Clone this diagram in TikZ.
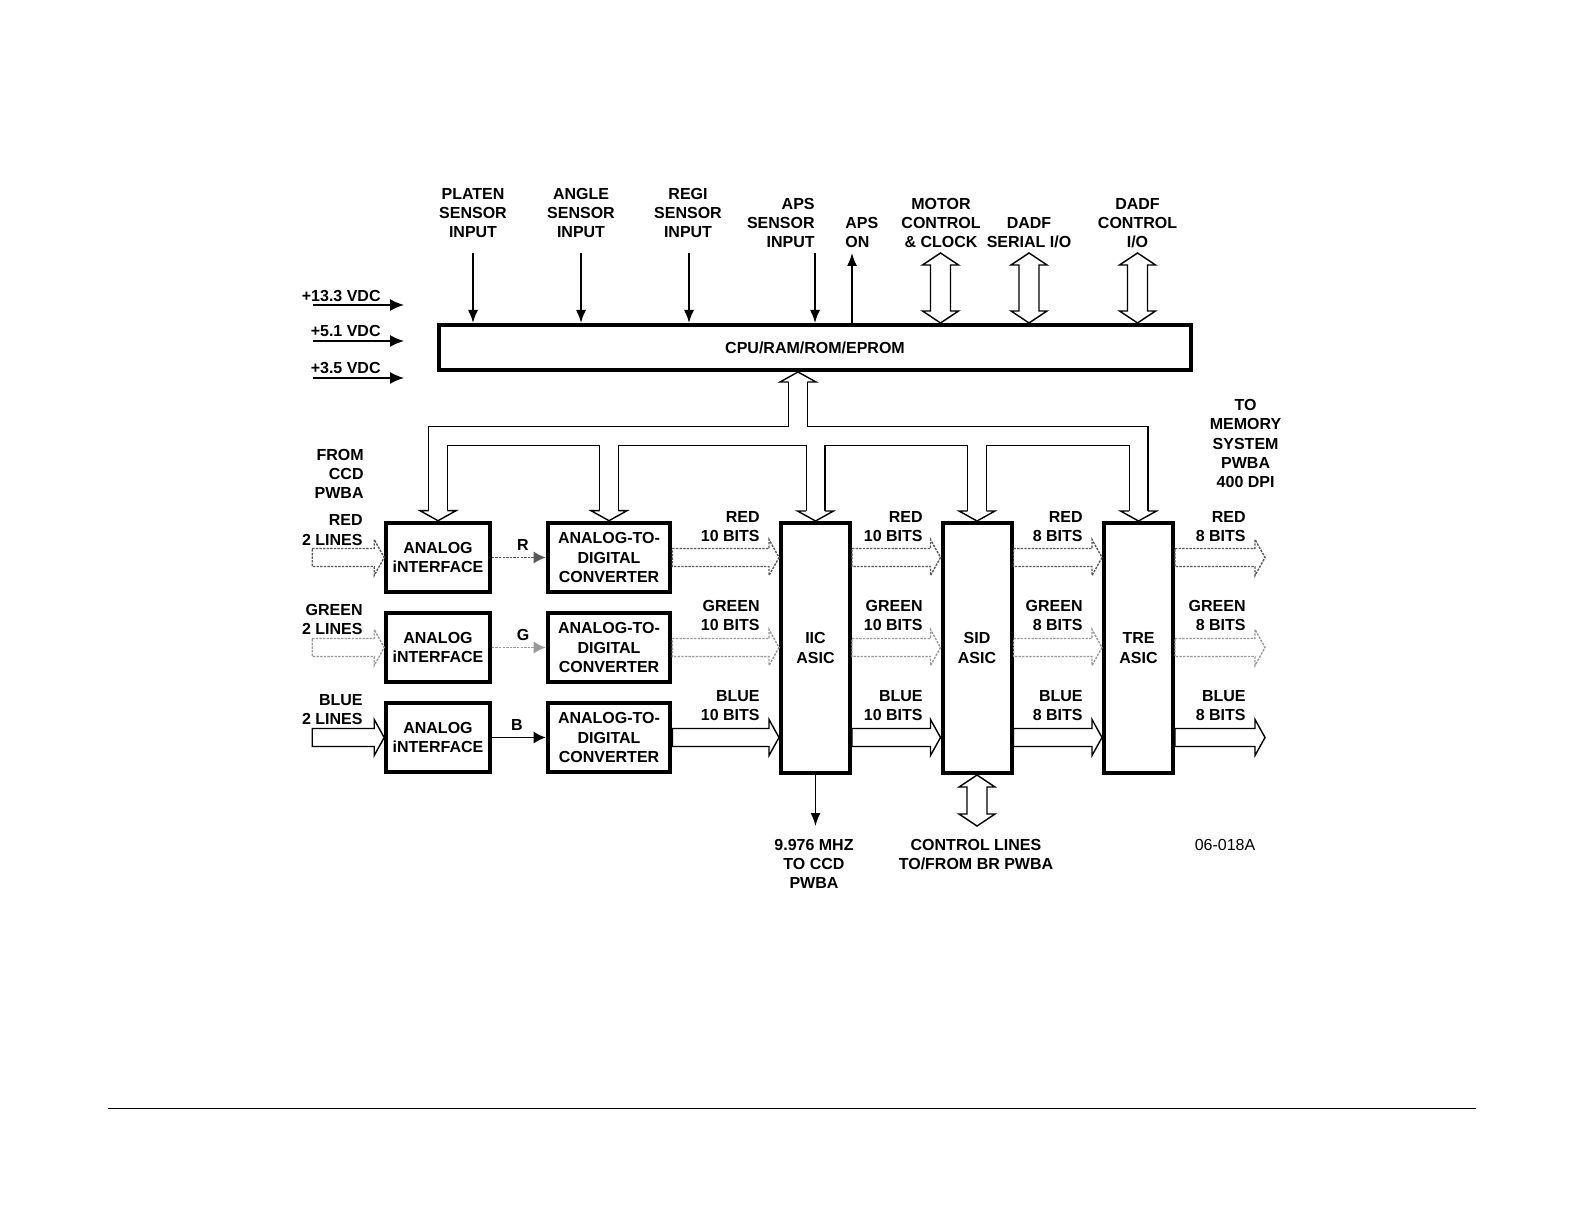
\documentclass[tikz,border=0pt]{standalone}
\usepackage{fontspec}
\setmainfont{Liberation Sans}
\usetikzlibrary{arrows.meta,calc}

\tikzset{
  blk/.style={draw, line width=2pt, align=center, inner sep=0pt},
  lbl/.style={align=center, inner sep=0pt},
  busline/.style={line width=0.7pt, line join=miter},
  row1/.style={busline, dash pattern=on 1.2pt off 0.6pt, black!65},
  row2/.style={busline, dash pattern=on 1.2pt off 0.6pt, black!40},
  row3/.style={busline},
  sig/.style={line width=0.8pt, -{Latex[length=6.5pt,width=5pt]}},
}

% hollow one-way bus, left to right
\newcommand\hbus[3][]{\draw[#1] let \p1=#2, \p2=#3 in
  (\x1,\y1+4.5pt) -- (\x2-5pt,\y1+4.5pt) -- (\x2-5pt,\y1+9pt) -- (\x2,\y1)
  -- (\x2-5pt,\y1-9pt) -- (\x2-5pt,\y1-4.5pt) -- (\x1,\y1-4.5pt) -- cycle;}
% hollow two-way bus, top to bottom
\newcommand\vbus[2]{\draw[busline] let \p1=#1, \p2=#2 in
  (\x1,\y1) -- (\x1+9pt,\y1-6pt) -- (\x1+5pt,\y1-6pt) -- (\x1+5pt,\y2+6pt)
  -- (\x1+9pt,\y2+6pt) -- (\x1,\y2) -- (\x1-9pt,\y2+6pt) -- (\x1-5pt,\y2+6pt)
  -- (\x1-5pt,\y1-6pt) -- (\x1-9pt,\y1-6pt) -- cycle;}
% open head on the end of the bus tree
\newcommand\bushead[2]{%
  \fill[white] let \p1=#1 in (\x1-9pt,{\y1+(#2)}) -- (\x1,\y1) -- (\x1+9pt,{\y1+(#2)}) -- cycle;
  \draw[busline] let \p1=#1 in (\x1-4.65pt,{\y1+(#2)}) -- (\x1-9pt,{\y1+(#2)}) -- (\x1,\y1)
    -- (\x1+9pt,{\y1+(#2)}) -- (\x1+4.65pt,{\y1+(#2)});}

\begin{document}
\begin{tikzpicture}[x=0.5pt, y=-0.5pt, font=\fontsize{8}{9.6}\selectfont\bfseries]
    \useasboundingbox (0,0) rectangle (1584,1224);

    % blocks
    \node[blk, minimum width=375.8pt, minimum height=22.5pt] (cpu) at (815,347.5) {CPU/RAM/ROM/EPROM};
    \foreach \i/\y in {1/557.5, 2/647.5, 3/737.5} {
        \node[blk, minimum width=51.8pt, minimum height=34.8pt] (ai\i) at (438,\y) {ANALOG\\iNTERFACE};
        \node[blk, minimum width=61.3pt, minimum height=34.8pt] (adc\i) at (609,\y) {ANALOG-TO-\\DIGITAL\\CONVERTER};
    }
    \node[blk, minimum width=34.5pt, minimum height=125pt] (iic) at (815.5,648) {IIC\\ASIC};
    \node[blk, minimum width=34.5pt, minimum height=125pt] (sid) at (977,648) {SID\\ASIC};
    \node[blk, minimum width=34.5pt, minimum height=125pt] (tre) at (1138.5,648) {TRE\\ASIC};

    % labels above the CPU
    \node[lbl] (platen) at (473,213) {PLATEN\\SENSOR\\INPUT};
    \node[lbl] (angle) at (581,213) {ANGLE\\SENSOR\\INPUT};
    \node[lbl] (regi) at (688,213) {REGI\\SENSOR\\INPUT};
    \node[lbl, align=right, anchor=east] (apsIn) at (815,223) {APS\\SENSOR\\INPUT};
    \node[lbl, align=left, anchor=west] (apsOn) at (845,232.5) {APS\\ON};
    \node[lbl] (motor) at (941,223) {MOTOR\\CONTROL\\\& CLOCK};
    \node[lbl] (dadfSer) at (1029,232.5) {DADF\\SERIAL I/O};
    \node[lbl] (dadfCtl) at (1137.5,223) {DADF\\CONTROL\\I/O};

    \node[lbl, anchor=east] (v13) at (381,296) {+13.3 VDC};
    \node[lbl, anchor=east] (v5) at (381,331) {+5.1 VDC};
    \node[lbl, anchor=east] (v3) at (381,368) {+3.5 VDC};

    % labels of the video path
    \node[lbl, align=right, anchor=east] (fromCcd) at (364,474) {FROM\\CCD\\PWBA};
    \node[lbl, align=right, anchor=east] (redIn) at (363,530) {RED\\2 LINES};
    \node[lbl, align=right, anchor=east] (greenIn) at (363,619.5) {GREEN\\2 LINES};
    \node[lbl, align=right, anchor=east] (blueIn) at (363,709.5) {BLUE\\2 LINES};
    \node[lbl] (rLbl) at (523,545) {R};
    \node[lbl] (gLbl) at (523,635) {G};
    \node[lbl] (bLbl) at (517,725) {B};
    \foreach \c/\xr/\nb in {a/760/10, b/923/10, c/1083/8, d/1246/8}
        \foreach \r/\y/\t in {R/526.5/RED, G/615.6/GREEN, B/705.6/BLUE}
            \node[lbl, align=right, anchor=east] (bits\c\r) at (\xr,\y) {\t\\\nb\ BITS};
    \node[lbl] (toMem) at (1245.6,443.5) {TO\\MEMORY\\SYSTEM\\PWBA\\400 DPI};
    \node[lbl] (clkLbl) at (814,864) {9.976 MHZ\\TO CCD\\PWBA};
    \node[lbl] (ctlLbl) at (976,854.5) {CONTROL LINES\\TO/FROM BR PWBA};
    \node[lbl, font=\fontsize{8}{9.6}\selectfont] (figNo) at (1225,845) {06-018A};

    % single signals
    \foreach \k/\x in {platen/473, angle/581, regi/689, apsIn/815} {
        \coordinate (\k Pt) at (\x,253);
        \draw[sig] (\k Pt) -- (\k Pt |- cpu.north);
    }
    \coordinate (apsOnPt) at (852,253);
    \draw[sig] (apsOnPt |- cpu.north) -- (apsOnPt);
    \foreach \v/\y in {v13/305, v5/341, v3/378} {
        \coordinate (\v Pt) at (313,\y);
        \draw[line width=0.8pt, -{Latex[length=7pt,width=6pt]}] (\v Pt) -- ++(91,0);
    }
    \coordinate (ccdClk) at (815.5,826);
    \draw[sig] (iic.south) -- (ccdClk);

    % two-way buses
    \foreach \k/\x in {motor/940.5, dadfSer/1029, dadfCtl/1137.5} {
        \coordinate (\k Pt) at (\x,253);
        \vbus{(\k Pt)}{(\k Pt |- cpu.north)}
    }
    \coordinate (ctlPt) at (977,826);
    \vbus{(sid.south)}{(ctlPt)}

    % CPU bus tree
    \coordinate (hub) at (798,436);
    \coordinate (trunkTop) at ($(cpu.south -| hub)+(0,10)$);
    \foreach \w/\c in {10pt/black, 8.6pt/white} {
        \draw[line width=\w, \c, line join=miter] ($(ai1.north)+(0,-10)$) |- (hub) -| ($(tre.north)+(0,-10)$);
        \draw[line width=\w, \c] (hub) -- (trunkTop);
        \foreach \b in {adc1, iic, sid}
            \draw[line width=\w, \c] (\b.north |- hub) -- ($(\b.north)+(0,-10)$);
    }
    \foreach \b in {ai1, adc1, iic, sid, tre} {
        \bushead{(\b.north)}{5pt}
    }
    \bushead{(cpu.south -| hub)}{-5pt}

    % video data paths
    \foreach \i in {1,2,3} {
        \coordinate (in\i) at ($(ai\i.west)+(-72,0)$);
        \coordinate (out\i) at ($(adc\i.east -| tre.east)+(90,0)$);
        \hbus[row\i]{(in\i)}{(ai\i.west)}
        \draw[row\i, -{Latex[length=6pt,width=6pt]}] (ai\i) -- (adc\i);
        \hbus[row\i]{(adc\i.east)}{(adc\i.east -| iic.west)}
        \hbus[row\i]{(adc\i.east -| iic.east)}{(adc\i.east -| sid.west)}
        \hbus[row\i]{(adc\i.east -| sid.east)}{(adc\i.east -| tre.west)}
        \hbus[row\i]{(adc\i.east -| tre.east)}{(out\i)}
    }

    \draw[line width=0.5pt] (108,1108) -- (1476,1108);
\end{tikzpicture}
\end{document}
